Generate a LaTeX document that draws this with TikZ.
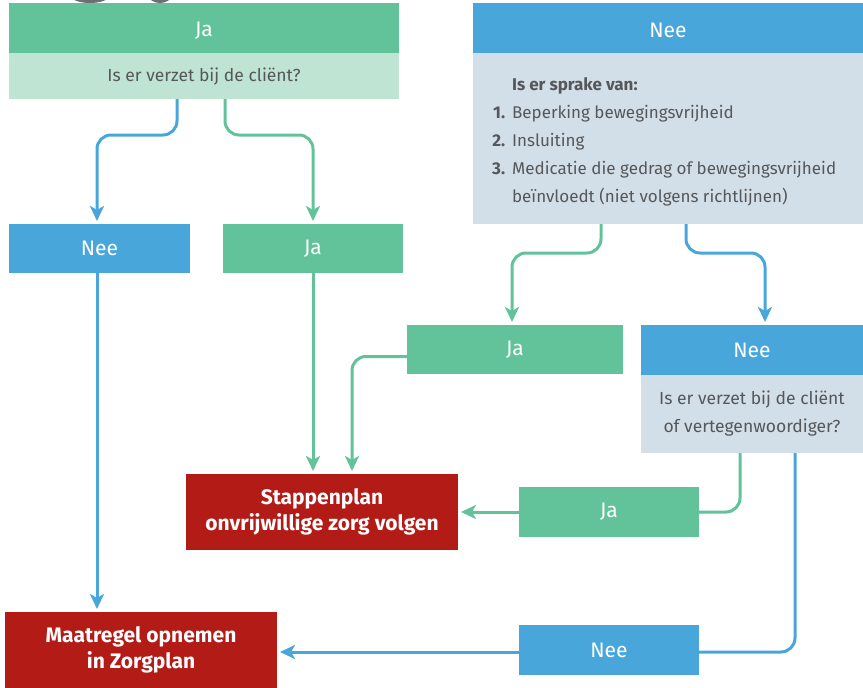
\documentclass[tikz,border=0pt]{standalone}
\usepackage{fontspec}
\setmainfont{Fira Sans}
\usetikzlibrary{arrows.meta}
\definecolor{grn}{HTML}{62C39B}
\definecolor{lgrn}{HTML}{C0E4D4}
\definecolor{blu}{HTML}{48A6DB}
\definecolor{lblu}{HTML}{D3DFE8}
\definecolor{rd}{HTML}{B31B17}
\definecolor{txt}{HTML}{55575A}
\definecolor{dgray}{HTML}{6F6F6F}
\begin{document}
\begin{tikzpicture}[x=1pt,y=-1pt,
  box/.style 2 args={anchor=north west,inner sep=0pt,outer sep=0pt,
    minimum width=#1,minimum height=#2,align=center},
  head/.style={text=white,font=\fontsize{21}{24}\selectfont},
  body/.style={text=txt,font=\fontsize{17.5}{28}\selectfont},
  red/.style={fill=rd,text=white,font=\bfseries\fontsize{21}{26}\selectfont},
  conn/.style={line width=3pt,rounded corners=14pt},
  tip/.style={-{Stealth[length=15pt,width=14pt,inset=4pt]},shorten >=3pt},
]
\useasboundingbox (0,0) rectangle (863,688);
\fill[dgray] (90,-4) ellipse [x radius=19pt, y radius=7pt];
\fill[dgray] (160,-4) ellipse [x radius=11pt, y radius=7pt];

% top left
\node[box={390pt}{50pt},fill=grn,head] (jaTopH) at (9,3) {\raisebox{-3pt}[\height][\depth]{Ja}};
\node[box={390pt}{46pt},fill=lgrn,body] (jaTopB) at (9,53) {\raisebox{-1pt}[\height][\depth]{Is er verzet bij de cliënt?}};
% top right
\node[box={390pt}{50pt},fill=blu,head] (neeTopH) at (473,3) {\raisebox{-2pt}[\height][\depth]{Nee}};
\node[box={390pt}{171pt},fill=lblu] (neeTopB) at (473,53) {};
\node[anchor=base west,inner sep=0pt,text=txt,font=\fontsize{17}{28}\selectfont] (list) at (492,90)
  {\begin{tabular}[t]{@{}r@{\hspace{7pt}}l@{}}
   & \textbf{Is er sprake van:}\\
   \textbf{1.} & Beperking bewegingsvrijheid\\
   \textbf{2.} & Insluiting\\
   \textbf{3.} & Medicatie die gedrag of bewegingsvrijheid\\
   & beïnvloedt (niet volgens richtlijnen)
   \end{tabular}};
% second row
\node[box={181pt}{49pt},fill=blu,head] (neeL) at (9,224) {Nee};
\node[box={180pt}{49pt},fill=grn,head] (jaL) at (223,224) {Ja};
% third row
\node[box={216pt}{49pt},fill=grn,head] (jaM) at (407,325) {Ja};
\node[box={222pt}{50pt},fill=blu,head] (neeRH) at (641,325) {Nee};
\node[box={222pt}{78pt},fill=lblu,body] (neeRB) at (641,375) {Is er verzet bij de cliënt\\of vertegenwoordiger?};
% results
\node[box={272pt}{76pt},red] (stap) at (186,474) {Stappenplan\\onvrijwillige zorg volgen};
\node[box={180pt}{50pt},fill=grn,head] (jaB) at (519,487) {Ja};
\node[box={180pt}{50pt},fill=blu,head] (neeB) at (519,625) {Nee};
\node[box={272pt}{76pt},red] (maat) at (5,612) {Maatregel opnemen\\in Zorgplan};

% connectors
\draw[conn,tip,blu] ([xshift=168pt]jaTopB.south west) -- ++(0,36) -| ([xshift=88pt]neeL.north west);
\draw[conn,tip,grn] ([xshift=216pt]jaTopB.south west) -- ++(0,36) -| (jaL.north);
\draw[conn,tip,grn] ([xshift=128pt]neeTopB.south west) -- ++(0,29) -| ([xshift=105pt]jaM.north west);
\draw[conn,tip,blu] ([xshift=213pt]neeTopB.south west) -- ++(0,29) -| ([xshift=124pt]neeRH.north west);
\draw[conn,tip,grn] (jaL.south) -- (jaL.south |- stap.north);
\draw[conn,tip,grn] ([yshift=-7pt]jaM.west) -| ([xshift=166pt]stap.north west);
\draw[conn,grn] ([xshift=99pt]neeRB.south west) |- (jaB.east);
\draw[conn,tip,grn] (jaB.west) -- (stap.east);
\draw[conn,blu] ([xshift=154pt]neeRB.south west) |- ([yshift=-2pt]neeB.east);
\draw[conn,tip,blu] ([yshift=-2pt]neeB.west) -- ([yshift=-2pt]neeB.west -| maat.east);
\draw[conn,tip,blu] ([xshift=88pt]neeL.south west) -- ([xshift=92pt]maat.north west);
\end{tikzpicture}
\end{document}
